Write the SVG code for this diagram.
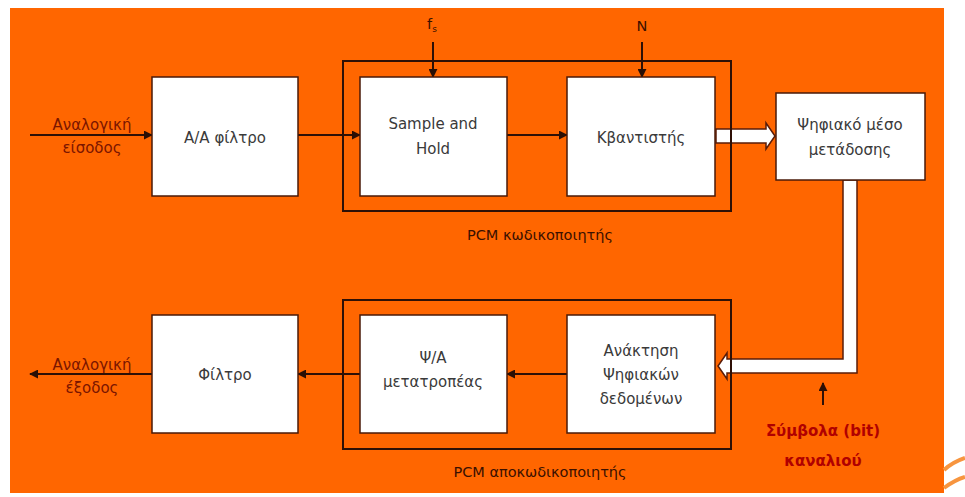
<svg xmlns="http://www.w3.org/2000/svg" width="965" height="497" viewBox="0 0 965 497">
  <defs>
    <marker id="arr" viewBox="0 0 10 10" refX="9" refY="5" markerWidth="9" markerHeight="9" markerUnits="userSpaceOnUse" orient="auto">
      <path d="M0,0 L10,5 L0,10 z" fill="#2a0f05"/>
    </marker>
    <style>
      .bg { fill: #ff6600; }
      .blk { fill: #ffffff; stroke: #4a1a08; stroke-width: 1.5; }
      .grp { fill: none; stroke: #2e1006; stroke-width: 2; }
      .wire { fill: none; stroke: #2e1006; stroke-width: 2; marker-end: url(#arr); }
      .pipe { fill: #ffffff; stroke: #5a1c08; stroke-width: 1.5; }
      .t { font-family: "DejaVu Sans", "Liberation Sans", sans-serif; font-size: 15px; fill: #3a3a3a; text-anchor: middle; }
      .lab { font-family: "DejaVu Sans", "Liberation Sans", sans-serif; font-size: 15px; fill: #7a1500; text-anchor: middle; }
      .red { font-family: "DejaVu Sans", "Liberation Sans", sans-serif; font-size: 15px; font-weight: bold; fill: #b00000; text-anchor: middle; }
      .dark { font-family: "DejaVu Sans", "Liberation Sans", sans-serif; font-size: 14.5px; fill: #3a1000; text-anchor: middle; }
      .swoosh { fill: none; stroke: #f7953f; stroke-width: 4; }
    </style>
  </defs>

  <!-- page backdrop -->
  <rect x="0" y="0" width="965" height="497" fill="#ffffff"/>
  <rect class="bg" x="10" y="8" width="934" height="485"/>
  <path class="swoosh" d="M944,470 Q953,462 965,458"/>
  <path class="swoosh" d="M944,488 Q955,480 965,477"/>

  <!-- connectors -->
  <g id="connectors">
    <line class="wire" x1="30" y1="135" x2="152" y2="135"/>
    <line class="wire" x1="298" y1="135" x2="360" y2="135"/>
    <line class="wire" x1="507" y1="135" x2="567" y2="135"/>
    <line class="wire" x1="433" y1="42" x2="433" y2="77"/>
    <line class="wire" x1="642" y1="42" x2="642" y2="77"/>
    <line class="wire" x1="567" y1="374" x2="507" y2="374"/>
    <line class="wire" x1="360" y1="374" x2="298" y2="374"/>
    <line class="wire" x1="152" y1="374" x2="30" y2="374"/>
    <line class="wire" x1="823" y1="405" x2="823" y2="383"/>
    <!-- wide data arrow: quantiser to channel -->
    <path class="pipe" d="M716,129 L766,129 L766,123 L775,136 L766,149 L766,143 L716,143 z"/>
    <!-- wide data arrow: channel to data recovery -->
    <path class="pipe" d="M843,180 L857,180 L857,373 L727,373 L727,379 L718,366 L727,353 L727,359 L843,359 z"/>
  </g>

  <!-- grouping frames, drawn over the wide arrows -->
  <rect class="grp" x="343" y="61" width="388" height="150"/>
  <rect class="grp" x="343" y="300" width="388" height="149"/>
  <text class="dark" x="540" y="240">PCM κωδικοποιητής</text>
  <text class="dark" x="540" y="477">PCM αποκωδικοποιητής</text>

  <!-- encoder chain -->
  <g id="aa-filter">
    <rect class="blk" x="152" y="77" width="146" height="119"/>
    <text class="t" x="225" y="143">Α/Α φίλτρο</text>
  </g>
  <g id="sample-hold">
    <rect class="blk" x="360" y="77" width="147" height="119"/>
    <text class="t" x="433" y="129">Sample and</text>
    <text class="t" x="433" y="154">Hold</text>
  </g>
  <g id="quantiser">
    <rect class="blk" x="567" y="77" width="148" height="119"/>
    <text class="t" x="641" y="143">Κβαντιστής</text>
  </g>
  <g id="channel">
    <rect class="blk" x="776" y="93" width="149" height="87"/>
    <text class="t" x="850" y="130">Ψηφιακό μέσο</text>
    <text class="t" x="850" y="155">μετάδοσης</text>
  </g>

  <!-- decoder chain -->
  <g id="recovery">
    <rect class="blk" x="567" y="315" width="148" height="118"/>
    <text class="t" x="641" y="356">Ανάκτηση</text>
    <text class="t" x="641" y="380">Ψηφιακών</text>
    <text class="t" x="641" y="404">δεδομένων</text>
  </g>
  <g id="da-converter">
    <rect class="blk" x="360" y="315" width="147" height="118"/>
    <text class="t" x="433" y="363">Ψ/Α</text>
    <text class="t" x="433" y="387">μετατροπέας</text>
  </g>
  <g id="out-filter">
    <rect class="blk" x="152" y="315" width="146" height="118"/>
    <text class="t" x="225" y="380">Φίλτρο</text>
  </g>

  <!-- signal labels -->
  <text class="lab" x="92" y="130">Αναλογική</text>
  <text class="lab" x="92" y="153">είσοδος</text>
  <text class="lab" x="92" y="370">Αναλογική</text>
  <text class="lab" x="92" y="393">έξοδος</text>
  <text class="dark" x="432" y="29" font-size="15">f<tspan font-size="9" dy="3">s</tspan></text>
  <text class="dark" x="642" y="31" font-size="15">N</text>
  <text class="red" x="823" y="436">Σύμβολα (bit)</text>
  <text class="red" x="823" y="466">καναλιού</text>
</svg>
